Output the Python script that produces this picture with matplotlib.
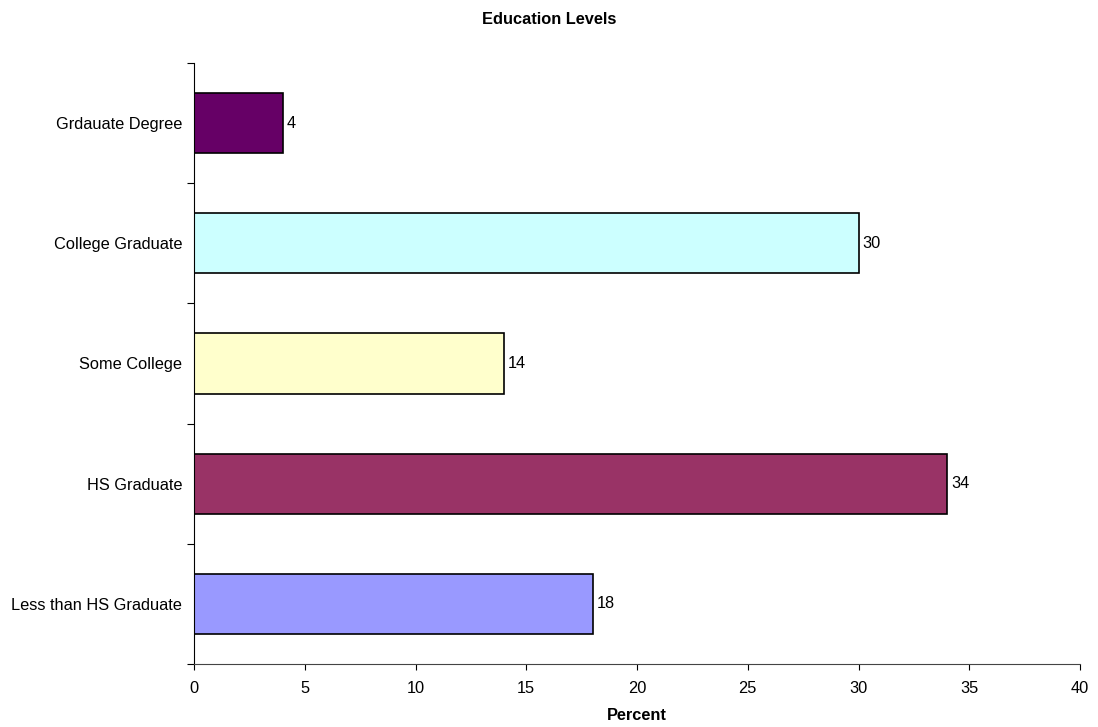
import matplotlib
matplotlib.use("Agg")
import matplotlib.pyplot as plt

categories = ["Less than HS Graduate", "HS Graduate", "Some College", "College Graduate", "Grdauate Degree"]
values = [18, 34, 14, 30, 4]
colors = ["#9999FF", "#993366", "#FFFFCC", "#CCFFFF", "#660066"]
xticks = [0, 5, 10, 15, 20, 25, 30, 35, 40]

plt.rcParams['font.family'] = ['Liberation Sans', 'DejaVu Sans']
FS = 11.8

fig = plt.figure(figsize=(10.98, 7.27), dpi=100)
ax = fig.add_axes([194/1098, 1 - 664/727, (1080-194)/1098, (664-63)/727])

pos = list(range(len(categories)))
bars = ax.barh(pos, values, height=0.5, color=colors, edgecolor="black", linewidth=1.2)
for b, v in zip(bars, values):
    ax.annotate(f"{v}", (b.get_width(), b.get_y() + b.get_height()/2),
                xytext=(4, 0), textcoords="offset pixels",
                va="center", ha="left", fontsize=FS)

ax.set_xlim(0, 40)
ax.set_ylim(-0.5, len(categories) - 0.5)
ax.set_xticks(xticks)
ax.set_xticklabels([str(t) for t in xticks], fontsize=FS)
ax.set_yticks([p - 0.5 for p in pos] + [len(categories) - 0.5])
ax.set_yticklabels([])
ax.set_yticks(pos, minor=True)
ax.set_yticklabels(categories, minor=True, fontsize=FS)
ax.tick_params(axis="y", which="minor", length=0, pad=8.6)
ax.tick_params(axis="y", which="major", length=5, direction="out", color="black")
ax.tick_params(axis="x", length=4, direction="out", pad=8)

for s in ["top", "right"]:
    ax.spines[s].set_visible(False)
ax.spines["left"].set_color("black")
ax.spines["bottom"].set_color("#444444")

ax.set_xlabel("Percent", fontsize=FS, fontweight="bold", labelpad=9)
fig.text(549/1098, 1 - 20/727, "Education Levels", ha="center", va="center", fontsize=FS, fontweight="bold")

fig.savefig("out.png", dpi=100)
